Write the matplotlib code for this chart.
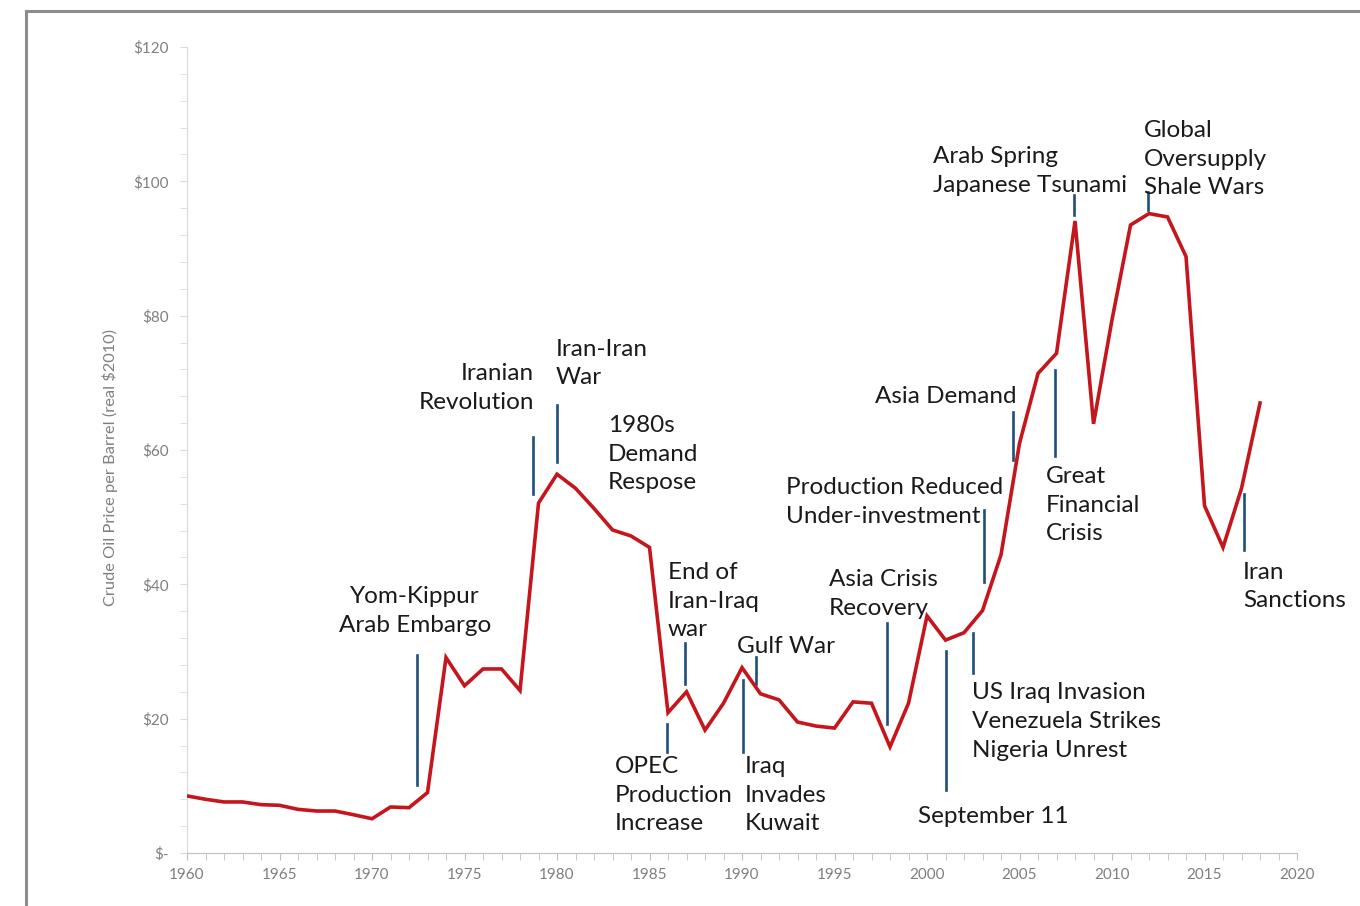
import matplotlib.pyplot as plt
from matplotlib.patches import Rectangle
from matplotlib.ticker import MultipleLocator, FuncFormatter

# Real crude oil price, $2010 per barrel
years = list(range(1960, 2019))
price = [8.5, 8.0, 7.6, 7.6, 7.2, 7.1, 6.5, 6.25, 6.25, 5.7,
         5.1, 6.85, 6.75, 9.0, 29.1, 24.9, 27.4, 27.4, 24.2, 52.1,
         56.4, 54.3, 51.3, 48.1, 47.2, 45.5, 20.9, 24.0, 18.3, 22.3,
         27.6, 23.7, 22.8, 19.5, 18.9, 18.6, 22.5, 22.3, 15.8, 22.3,
         35.3, 31.7, 32.8, 36.1, 44.4, 61.0, 71.4, 74.4, 94.1, 63.9,
         79.4, 93.5, 95.2, 94.7, 88.8, 51.7, 45.5, 54.3, 67.0]

# Event markers: (label, marker x, marker y0, marker y1, text x, text y, align)
events = [
    ("Yom-Kippur\nArab Embargo", 1972.43, 10.1, 29.5, 1972.32, 36.0, "center"),
    ("Iranian\nRevolution", 1978.7, 53.4, 61.9, 1978.76, 69.2, "right"),
    ("Iran-Iran\nWar", 1980.0, 58.2, 66.7, 1979.95, 72.9, "left"),
    ("1980s\nDemand\nRespose", None, None, None, 1982.76, 59.4, "left"),
    ("End of\nIran-Iraq\nwar", 1986.9, 25.2, 31.3, 1986.0, 37.5, "left"),
    ("OPEC\nProduction\nIncrease", 1985.95, 15.0, 19.2, 1983.14, 8.6, "left"),
    ("Gulf War", 1990.75, 25.2, 29.2, 1989.73, 30.7, "left"),
    ("Iraq\nInvades\nKuwait", 1990.05, 15.0, 25.8, 1990.16, 8.6, "left"),
    ("Asia Crisis\nRecovery", 1997.84, 19.2, 34.2, 1994.7, 38.6, "left"),
    ("Production Reduced\nUnder-investment", 2003.1, 40.3, 51.1, 1992.38, 52.3, "left"),
    ("September 11", 2001.03, 9.4, 30.1, 1999.51, 5.4, "left"),
    ("US Iraq Invasion\nVenezuela Strikes\nNigeria Unrest", 2002.5, 26.8, 32.8, 2002.43, 19.6, "left"),
    ("Asia Demand", 2004.65, 58.5, 65.7, 1997.19, 68.0, "left"),
    ("Great\nFinancial\nCrisis", 2006.9, 59.1, 71.9, 2006.43, 51.8, "left"),
    ("Arab Spring\nJapanese Tsunami", 2007.95, 95.0, 98.0, 2000.32, 101.5, "left"),
    ("Global\nOversupply\nShale Wars", 2011.95, 95.7, 98.4, 2011.73, 103.3, "left"),
    ("Iran\nSanctions", 2017.14, 45.1, 53.4, 2017.08, 39.7, "left"),
]

plt.rcParams['font.family'] = ['Lato', 'DejaVu Sans']

fig = plt.figure(figsize=(13.6, 9.06), dpi=100)
ax = fig.add_axes([0.1375, 0.0585, 0.8162, 0.8896])

# outer frame, cut off on the right and bottom
fig.patches.append(Rectangle((0.019, -0.05), 1.1, 0.0379 + 1.0, transform=fig.transFigure,
                             fill=False, edgecolor="#8c8c8c", linewidth=2.2, zorder=0))

ax.plot(years, price, color="#C4161C", linewidth=2.6, zorder=3, solid_joinstyle="miter")

for label, mx, y0, y1, tx, ty, ha in events:
    if mx is not None:
        ax.plot([mx, mx], [y0, y1], color="#1F4E79", linewidth=1.9, zorder=2)
    ax.text(tx, ty, label, ha=ha, va="center", fontsize=17.5, color="#1a1a1a",
            linespacing=1.45, zorder=4)

ax.set_xlim(1960, 2020)
ax.set_ylim(0, 120)
ax.xaxis.set_major_locator(MultipleLocator(5))
ax.xaxis.set_minor_locator(MultipleLocator(1))
ax.yaxis.set_major_locator(MultipleLocator(20))
ax.yaxis.set_minor_locator(MultipleLocator(4))
ax.yaxis.set_major_formatter(FuncFormatter(lambda v, p: "$-" if v == 0 else f"${v:.0f}"))

for side in ["top", "right"]:
    ax.spines[side].set_visible(False)
ax.spines["left"].set_color("#d9d9d9")
ax.spines["bottom"].set_color("#bfbfbf")
ax.tick_params(axis="both", which="both", direction="out", length=5, color="#bfbfbf",
               labelcolor="#7f7f7f", labelsize=11)
ax.tick_params(axis="y", which="both", color="#d9d9d9", pad=8)
ax.tick_params(axis="x", pad=6)

ax.set_ylabel("Crude Oil Price per Barrel (real $2010)", fontsize=11.8, color="#7f7f7f")
ax.yaxis.set_label_coords(-0.062, 0.478)

fig.savefig("out.png", dpi=100)
